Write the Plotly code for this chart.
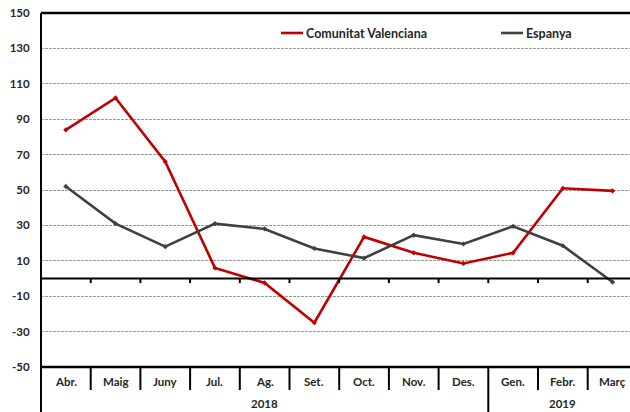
import plotly.graph_objects as go

months = ["Abr.", "Maig", "Juny", "Jul.", "Ag.", "Set.", "Oct.", "Nov.", "Des.", "Gen.", "Febr.", "Març"]
years = ["2018", "2019"]
year_spans = [(0, 8), (9, 11)]
cv = [84, 102, 66, 6, -2.5, -25, 23.5, 14.5, 8.5, 14.5, 51, 49.5]
esp = [52, 31, 18, 31, 28, 17, 11.5, 24.5, 19.5, 29.5, 18.5, -2]
series_names = ["Comunitat Valenciana", "Espanya"]
y_ticks = list(range(-50, 151, 20))

RED = "#C00000"
GREY = "#404040"
TXT = "#262626"
FONT = "Lato"

W, H = 630, 412
L, T = 41, 13
BOT = 367
B = H - BOT
plot_w = W - L
plot_h = H - T - B
cat_px = 49.7
x0 = -0.5
x1 = x0 + plot_w / cat_px

def xp(v):
    return (v - x0) / (x1 - x0)

def xpx(px):
    return (px - L) / plot_w

def ypx(py):
    return (BOT - py) / plot_h

fig = go.Figure()
for name, vals, col in [(series_names[0], cv, RED), (series_names[1], esp, GREY)]:
    fig.add_trace(go.Scatter(
        x=list(range(len(months))), y=vals, mode="lines+markers", name=name,
        line=dict(color=col, width=2.6), marker=dict(symbol="diamond", size=4, color=col),
        showlegend=False, cliponaxis=False))

shapes = []
annotations = []
shapes.append(dict(type="line", xref="paper", yref="paper", x0=0, x1=1, y0=1, y1=1,
                   line=dict(color="black", width=2.5)))
shapes.append(dict(type="line", xref="paper", yref="paper", x0=0, x1=1, y0=0, y1=0,
                   line=dict(color="black", width=2.5)))
shapes.append(dict(type="line", xref="paper", yref="paper", x0=0, x1=0, y0=1, y1=ypx(412),
                   line=dict(color="black", width=2)))
shapes.append(dict(type="line", xref="paper", yref="y", x0=0, x1=1, y0=0, y1=0,
                   line=dict(color="black", width=2.2)))
for i in range(len(months) - 1):
    shapes.append(dict(type="line", xref="paper", yref="y", x0=xp(i + 0.5), x1=xp(i + 0.5),
                       y0=0, y1=-2.6, line=dict(color="black", width=2)))
    yb = ypx(412) if i == 8 else ypx(390)
    shapes.append(dict(type="line", xref="paper", yref="paper", x0=xp(i + 0.5), x1=xp(i + 0.5),
                       y0=0, y1=yb, line=dict(color="black", width=2)))

for i, m in enumerate(months):
    annotations.append(dict(x=xp(i), y=ypx(381), xref="paper", yref="paper", text=m,
                            showarrow=False, xanchor="center", yanchor="middle",
                            font=dict(family=FONT, size=11.5, color=TXT, weight="bold")))
for yr, (a, b) in zip(years, year_spans):
    cx = (xp(a - 0.5) + xp(b + 0.5)) / 2
    annotations.append(dict(x=cx, y=ypx(403), xref="paper", yref="paper", text=yr,
                            showarrow=False, xanchor="center", yanchor="middle",
                            font=dict(family=FONT, size=11.5, color=TXT, weight="bold")))

legend_pos = [(281, 303, series_names[0], RED), (501, 523, series_names[1], GREY)]
for a, b, name, col in legend_pos:
    shapes.append(dict(type="line", xref="paper", yref="paper", x0=xpx(a), x1=xpx(b),
                       y0=ypx(33), y1=ypx(33), line=dict(color=col, width=2.6)))
    annotations.append(dict(x=xpx(b + 1), y=ypx(33), xref="paper", yref="paper", text=name,
                            showarrow=False, xanchor="left", yanchor="middle",
                            font=dict(family=FONT, size=12.5, color=TXT, weight="bold")))

fig.update_layout(
    width=W, height=H, margin=dict(l=L, r=0, t=T, b=B),
    paper_bgcolor="white", plot_bgcolor="white",
    xaxis=dict(range=[x0, x1], showticklabels=False, showgrid=False, zeroline=False,
               showline=False, ticks=""),
    yaxis=dict(range=[-50, 150], tickvals=y_ticks, ticktext=[str(v) for v in y_ticks],
               showgrid=True, gridcolor="#999999", gridwidth=1, griddash="3px,1px",
               zeroline=False, showline=False, ticks="outside", ticklen=8,
               tickcolor="rgba(0,0,0,0)", ticklabeloverflow="allow",
               tickfont=dict(family=FONT, size=11.5, color=TXT, weight="bold")),
    shapes=shapes, annotations=annotations, showlegend=False,
)
fig.write_html("out.html", config={"displayModeBar": False},
               post_script="document.body.style.margin='0';document.documentElement.style.overflow='hidden';")
